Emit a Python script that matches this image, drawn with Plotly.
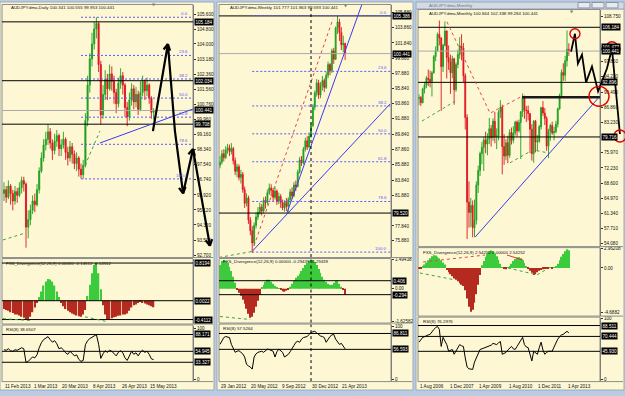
import math
import plotly.graph_objects as go

W, H = 625, 396

# ======================= DATA =======================
# ---- Daily window (left) ----
D_TITLE = "AUDJPY.dma,Daily 100.341 100.555 99.953 100.441"
D_OPEN0 = 96.0
D_CLOSE = [96.2, 95.8, 96.4, 96.0, 95.6, 96.1, 95.9, 96.3, 96.7, 96.5,
           94.2, 94.6, 95.1, 95.6, 95.4, 96.2, 97.2, 97.9, 98.6, 98.9,
           99.3, 98.7, 98.3, 98.8, 99.1, 98.4, 98.6, 98.9, 98.2, 97.9,
           98.5, 98.1, 97.6, 97.9, 97.3, 97.0, 97.5, 99.9, 101.8, 103.2,
           104.0, 104.8, 105.1, 102.9, 100.2, 101.3, 102.1, 101.6, 102.4, 102.0,
           101.4, 100.8, 101.9, 102.3, 101.8, 100.6, 100.1, 101.0, 101.6, 100.9,
           101.3, 100.5, 101.4, 102.0, 101.5, 101.8, 101.1, 100.34, 100.441]
D_HIGH = [96.6, 96.4, 96.7, 96.5, 96.2, 96.4, 96.3, 96.6, 96.9, 96.9,
          96.6, 95.1, 95.4, 95.9, 96.0, 96.5, 97.4, 98.2, 98.9, 99.3,
          99.7, 99.5, 98.9, 99.2, 99.4, 99.2, 98.9, 99.3, 99.0, 98.5,
          98.8, 98.7, 98.3, 98.2, 98.0, 97.6, 97.8, 100.3, 102.3, 103.5,
          104.6, 105.2, 105.43, 105.2, 103.1, 101.8, 102.6, 102.4, 102.9, 102.8,
          102.3, 101.6, 102.2, 102.7, 102.5, 101.9, 100.9, 101.4, 101.9, 101.8,
          101.7, 101.5, 102.0, 102.3, 102.1, 102.2, 101.9, 101.2, 100.555]
D_LOW = [95.6, 95.5, 95.7, 95.4, 95.1, 95.4, 95.5, 95.8, 96.0, 96.1,
         93.1, 93.6, 94.3, 94.9, 95.0, 95.3, 96.0, 97.1, 97.7, 98.3,
         98.6, 98.4, 97.8, 98.1, 98.5, 98.0, 98.0, 98.4, 97.8, 97.5,
         97.7, 97.6, 97.3, 97.2, 96.9, 96.8, 96.78, 97.4, 99.6, 101.4,
         102.8, 103.7, 104.3, 102.5, 99.7, 100.0, 101.0, 101.0, 101.5, 101.5,
         100.8, 100.3, 100.6, 101.6, 101.3, 100.1, 99.6, 99.9, 100.7, 100.5,
         100.6, 100.2, 100.4, 101.2, 101.0, 101.2, 100.8, 100.0, 99.953]
D_HIST = [-0.18, -0.2, -0.22, -0.25, -0.27, -0.3, -0.3, -0.32, -0.35, -0.37,
          -0.4, -0.41, -0.35, -0.25, -0.15, -0.05, 0.08, 0.2, 0.33, 0.42,
          0.47, 0.46, 0.42, 0.33, 0.2, 0.08, -0.05, -0.12, -0.18, -0.22,
          -0.25, -0.28, -0.3, -0.32, -0.34, -0.35, -0.3, -0.2, 0.1, 0.35,
          0.6, 0.78, 0.82, 0.6, 0.25, -0.1, -0.3, -0.41, -0.4, -0.38,
          -0.36, -0.35, -0.33, -0.32, -0.3, -0.3, -0.28, -0.22, -0.15, -0.1,
          -0.08, -0.05, -0.03, -0.05, -0.06, -0.08, -0.1, -0.12, -0.145]
D_RSI = [58, 57, 60, 56, 55, 58, 57, 60, 62, 60,
         33, 35, 40, 44, 42, 48, 62, 72, 78, 82,
         84, 78, 73, 76, 70, 60, 62, 58, 52, 49,
         55, 51, 46, 48, 39, 35, 37, 68, 76, 80,
         83, 86, 88, 69, 41, 50, 56, 53, 57, 55,
         50, 46, 53, 56, 52, 42, 37, 47, 55, 49,
         52, 46, 53, 57, 53, 55, 49, 40, 38.65]
D_DATES = ["11 Feb 2013", "1 Mar 2013", "20 Mar 2013", "8 Apr 2013", "26 Apr 2013", "15 May 2013"]
D_DATE_IDX = [0, 13, 26, 40, 53, 66]
D_PRICE_TICKS = [105.6, 104.8, 104.0, 103.18, 102.36, 101.56, 100.76, 99.96,
                 99.16, 98.34, 97.54, 96.74, 95.92, 95.12, 94.32, 93.5, 92.7]
D_LEVELS = [105.184, 102.034, 99.708]
D_LEVEL_TXT = ["105.184", "102.034", "99.708"]
D_FIB = (105.43, 96.78, 35)  # high, low, start bar
D_MACD_TITLE = "FXS_Divergence(12,26,9) 0.00000 -0.14512 -0.14512"
D_MACD_LEVELS = [0.82, 0.0, -0.41]
D_MACD_TXT = ["0.8194", "0.0022", "-0.4112"]
D_RSI_TITLE = "RSI(8) 38.6507"
D_RSI_LEVELS = [88.2, 54.9, 33.3]
D_RSI_TXT = ["88.171", "54.945", "33.327"]
D_ARROW_PATH = [(67.7, 99.34), (74.5, 104.0), (77.7, 99.34), (81.4, 96.0), (85.9, 98.38), (93.6, 93.2)]
D_ARROW_TIPS = [1, 3, 4, 5]
D_BLUE = [(43.6, 98.7), (85.9, 100.52)]
D_GREEN_DOT = [[(36.8, 97.49), (43.6, 99.34)], [(-0.5, 93.51), (9.5, 93.88)]]
D_MACD_GREEN = [[(-0.5, -0.39), (11.8, -0.43)], [(36.8, -0.35), (46.8, -0.455)]]

# ---- Weekly window (middle) ----
W_TITLE = "AUDJPY.dma,Weekly 101.777 101.863 99.593 100.441"
W_OPEN0 = 85.8
W_CLOSE = [86.2, 87.3, 86.8, 87.8, 88.1, 87.6, 88.0, 86.4, 85.0, 85.6,
           84.2, 84.6, 82.6, 80.8, 81.5, 78.6, 77.2, 75.6, 77.9, 79.0,
           79.6, 80.3, 79.8, 81.2, 80.9, 82.2, 82.8, 82.5, 81.6, 82.4,
           81.1, 81.7, 80.9, 80.2, 80.9, 80.4, 81.3, 82.3, 81.8, 83.2,
           83.0, 84.9, 86.5, 86.1, 87.9, 89.0, 88.2, 89.6, 91.0, 93.4,
           95.3, 96.6, 95.0, 96.2, 96.9, 96.0, 97.6, 99.0, 98.2, 100.8,
           99.7, 103.8, 104.6, 103.2, 101.6, 101.777, 100.441]
W_HIGH = [87.0, 87.8, 87.9, 88.3, 88.6, 88.5, 88.7, 88.2, 86.8, 86.0,
          85.9, 85.2, 84.9, 83.0, 82.1, 81.8, 79.0, 77.8, 78.3, 79.6,
          80.3, 80.9, 80.7, 81.6, 81.7, 82.6, 83.4, 83.3, 82.8, 83.0,
          82.6, 82.2, 82.0, 81.3, 81.2, 81.5, 81.6, 82.7, 82.9, 83.6,
          83.8, 85.2, 86.9, 87.0, 88.2, 89.4, 89.6, 90.1, 91.4, 93.8,
          95.6, 97.1, 97.0, 96.7, 97.5, 97.2, 98.0, 99.4, 99.2, 101.1,
          101.2, 104.0, 105.43, 105.0, 103.9, 102.8, 101.863]
W_LOW = [85.4, 85.9, 86.3, 86.6, 87.3, 87.0, 87.2, 85.9, 84.5, 84.2,
         83.8, 83.4, 82.2, 80.2, 80.4, 78.1, 76.6, 74.3, 75.2, 77.5,
         78.6, 79.3, 79.2, 79.5, 80.1, 80.6, 81.9, 81.7, 81.1, 81.3,
         80.6, 80.7, 80.2, 79.9, 79.7, 79.8, 79.5, 80.9, 81.4, 81.6,
         82.4, 82.9, 84.7, 85.7, 85.9, 87.6, 87.8, 88.0, 89.4, 90.8,
         93.0, 94.8, 94.5, 94.6, 95.6, 95.4, 95.8, 97.2, 97.6, 97.9,
         99.1, 99.6, 103.0, 102.1, 100.9, 100.6, 99.593]
W_HIST = [1.2, 1.4, 1.45, 1.4, 1.3, 1.1, 0.9, 0.6, 0.3, -0.05,
          -0.2, -0.35, -0.55, -0.75, -1.0, -1.25, -1.45, -1.4, -1.2, -0.9,
          -0.6, -0.3, 0.05, 0.2, 0.35, 0.45, 0.45, 0.35, 0.25, 0.15,
          0.08, 0.03, -0.05, -0.12, -0.15, -0.1, -0.03, 0.1, 0.25, 0.4,
          0.55, 0.65, 0.75, 0.9, 1.05, 1.2, 1.3, 1.4, 1.45, 1.45,
          1.35, 1.2, 1.0, 0.8, 0.6, 0.45, 0.35, 0.25, 0.2, 0.2,
          0.3, 0.4, 0.4, 0.25, 0.1, -0.05, -0.294]
W_RSI = [66, 74, 79, 81, 80, 79, 66, 58, 51, 53,
         54, 51, 48, 42, 28, 25, 23, 19, 42, 48,
         51, 52, 53, 51, 54, 57, 56, 54, 53, 42,
         52, 57, 53, 51, 42, 45, 47, 52, 57, 64,
         70, 72, 70, 76, 79, 80, 81, 85, 89, 90,
         91, 88, 85, 82, 81, 79, 70, 76, 81, 84,
         85, 76, 70, 66, 68, 62, 57.53]
W_DATES = ["29 Jan 2012", "20 May 2012", "9 Sep 2012", "30 Dec 2012", "21 Apr 2013"]
W_DATE_IDX = [0, 16, 32, 48, 64]
W_PRICE_TICKS = [105.88, 103.86, 101.84, 99.86, 97.88, 95.84, 93.86, 91.88, 89.84,
                 87.86, 85.88, 83.84, 81.88, 77.84, 75.88]
W_LEVELS = [105.386, 79.52]
W_LEVEL_TXT = ["105.386", "79.520"]
W_FIB = (105.43, 74.4, 17)
W_VLINE = 48
W_MACD_TITLE = "FXS_Divergence(12,26,9) 0.00000 -0.29439 -0.29439"
W_MACD_LEVELS = [0.406, -0.294]
W_MACD_TXT = ["0.406", "-0.294"]
W_MACD_TICKS = [1.494, 0.0, -1.626]
W_MACD_TICK_TXT = ["1.49438", "0.00", "-1.62582"]
W_RSI_TITLE = "RSI(8) 57.5264"
W_RSI_LEVELS = [86.8, 56.6]
W_RSI_TXT = ["86.811", "56.593"]
W_BLUE = [[(35.3, 79.54), (74.9, 106.94)], [(16.9, 74.48), (89.7, 93.83)]]
W_RED_DOT = [(16.9, 74.48), (59.6, 105.0)]
W_GREEN_DOT = [(-0.5, 73.7), (16.9, 74.48)]
W_MACD_GREEN = [(0.0, -1.39), (16.0, -1.54)]

# ---- Monthly window (right) ----
M_TITLE = "AUDJPY.dma,Monthly 100.844 102.338 99.284 100.441"
M_WINDOW = "AUDJPY.dma,Monthly"
M_OPEN0 = 89.0
M_CLOSE = [89.2, 88.0, 91.3, 92.2, 93.9,
           93.6, 93.1, 95.2, 99.1, 100.6, 104.5, 103.6, 96.7, 101.8, 105.3, 98.9, 97.8,
           95.2, 98.6, 91.1, 97.2, 99.6, 101.7, 101.2, 94.5, 84.4, 64.0, 61.5, 63.2,
           57.8, 59.6, 68.1, 71.6, 75.7, 77.2, 79.0, 78.0, 79.3, 81.7, 79.6, 83.5,
           79.8, 80.0, 85.7, 86.9, 77.4, 75.1, 78.3, 75.3, 80.8, 78.9, 80.7, 83.3,
           81.2, 83.2, 85.8, 89.2, 86.2, 86.1, 85.4, 81.6, 75.7, 83.5, 78.5, 78.7,
           82.2, 86.8, 85.5, 84.2, 77.5, 81.1, 82.5, 80.7, 81.0, 82.8, 86.5, 89.7,
           95.3, 94.6, 98.1, 100.844, 100.441]
M_HIGH = [90.0, 89.6, 91.6, 93.0, 94.4,
          96.0, 95.7, 95.6, 99.5, 101.6, 104.9, 107.8, 103.8, 102.2, 107.6, 105.4, 101.8,
          99.6, 99.3, 98.8, 97.7, 100.8, 103.8, 104.5, 102.4, 95.1, 85.2, 69.0, 65.0,
          64.4, 64.6, 69.0, 72.8, 76.2, 78.5, 79.8, 81.0, 80.6, 84.3, 82.6, 84.2,
          85.8, 81.8, 86.2, 88.6, 87.5, 80.4, 79.2, 80.0, 81.6, 82.0, 82.3, 83.6,
          83.7, 83.9, 86.0, 90.2, 89.7, 87.2, 87.3, 85.1, 82.8, 83.8, 83.8, 80.2,
          82.6, 87.0, 88.4, 86.7, 84.7, 81.7, 82.9, 83.4, 82.2, 83.6, 86.8, 90.2,
          96.0, 97.5, 99.3, 105.43, 102.338]
M_LOW = [87.4, 87.2, 87.8, 90.2, 91.5,
         92.0, 91.7, 89.5, 95.0, 98.0, 100.3, 101.8, 86.0, 95.4, 101.6, 93.8, 95.9,
         90.1, 93.9, 87.5, 90.6, 96.3, 98.6, 98.2, 93.0, 81.5, 55.1, 57.8, 58.0,
         55.5, 55.6, 58.6, 66.2, 70.3, 73.1, 71.5, 75.8, 75.3, 78.0, 77.4, 78.8,
         78.2, 76.8, 78.9, 84.3, 70.7, 73.0, 74.1, 73.4, 74.7, 77.9, 78.2, 80.1,
         79.8, 80.8, 74.4, 84.5, 84.1, 83.3, 83.7, 75.8, 74.0, 73.5, 76.0, 76.3,
         78.3, 81.5, 84.8, 82.6, 76.4, 74.6, 78.8, 80.2, 78.9, 80.6, 82.0, 86.3,
         89.5, 93.3, 93.2, 96.7, 99.284]
M_HIST = [-0.1, -0.05, 0.2, 0.5, 0.8, 1.1, 1.4, 1.7, 1.85, 1.8,
          1.6, 1.4, 1.1, 0.8, 0.5, -0.3, -0.6, -0.9, -1.2, -1.5,
          -1.7, -1.9, -2.2, -2.4, -2.6, -3.2, -4.4, -5.6, -6.3, -6.0,
          -5.0, -3.8, -2.4, -1.0, 0.4, 1.0, 1.6, 2.1, 2.4, 2.5,
          2.4, 2.1, 1.7, 1.2, 0.6, 0.1, -0.1, -0.2, 0.1, 0.3,
          0.6, 1.0, 1.3, 1.5, 1.55, 1.4, 1.1, 0.7, 0.3, -0.1,
          -0.4, -0.7, -1.0, -0.9, -0.6, -0.4, -0.3, -0.2, -0.15, -0.1,
          -0.05, 0.05, -0.05, 0.05, 0.2, 0.6, 1.1, 1.6, 2.0, 2.4,
          2.7, 2.54]
M_RSI = [61, 65, 69, 70, 72, 73, 74, 79, 82, 85,
         87, 82, 54, 69, 63, 57, 46, 48, 49, 41,
         47, 52, 57, 55, 54, 35, 20, 17, 16, 16,
         28, 36, 42, 49, 50, 51, 52, 53, 54, 56,
         59, 58, 57, 60, 62, 41, 42, 44, 48, 52,
         54, 50, 49, 54, 59, 65, 69, 57, 53, 52,
         40, 30, 46, 44, 41, 52, 61, 48, 41, 44,
         46, 46, 46, 53, 61, 66, 70, 73, 74, 77,
         79, 76.3]
M_DATES = ["1 Aug 2006", "1 Dec 2007", "1 Apr 2009", "1 Aug 2010", "1 Dec 2011", "1 Apr 2013"]
M_DATE_IDX = [0, 16, 32, 48, 64, 80]
M_PRICE_TICKS = [108.75, 97.85, 94.22, 90.49, 86.86, 83.23, 75.97, 72.23, 68.60,
                 64.97, 61.34, 57.71, 54.08]
M_LEVELS = [106.184, 92.896, 79.716]
M_LEVEL_TXT = ["106.184", "92.896", "79.716"]
M_EXTRA_BOX = [101.477]
M_EXTRA_BOX_TXT = ["101.477"]
M_MACD_TITLE = "FXS_Divergence(12,26,9) 2.54252 0.00000 2.54252"
M_MACD_TICKS = [2.86, 0.0, -6.43]
M_MACD_TICK_TXT = ["2.96208", "0.00", "-4.6882"]
M_RSI_TITLE = "RSI(8) 76.2976"
M_RSI_LEVELS = [88.5, 70.5, 45.9]
M_RSI_TXT = ["88.511", "70.444", "45.930"]
M_RED_DOT = [(15.1, 107.5), (38.4, 85.46), (55.7, 89.53)]
M_GREEN_DOT = [[(1.6, 83.55), (19.5, 88.34)], [(49.2, 73.49), (61.6, 76.6), (69.7, 75.88)]]
M_BLUE = [(30.3, 55.53), (96.8, 89.05)]
M_THICK = [(55.7, 89.29), (97.8, 89.29)]
M_ZIGZAG = [(82.2, 100.31), (84.3, 104.62), (85.9, 97.44), (88.1, 99.59), (90.3, 92.89),
            (93.5, 96.72), (96.8, 90.73), (101.6, 96.24), (104.3, 101.03), (108.6, 80.43)]
M_CIRCLES = [(84.3, 104.62), (104.3, 101.27), (97.3, 89.53), (108.6, 79.95)]
M_CIRCLE_R = [5, 6, 10, 6]
M_MACD_RED_DOT = [(2.2, 0.86), (35.7, 1.86)]
M_MACD_RED = [(47.6, 1.86), (56.2, 1.14)]
M_MACD_GREEN = [[(0.5, -0.72), (19.5, -1.72)], [(48.1, 0.0), (63.8, -1.0), (69.2, -0.14)]]

FIB_RATIOS = [0.0, 23.6, 38.2, 50.0, 61.8, 78.6, 100.0]
CURRENT = 100.441

# ======================= STYLE / LAYOUT =======================
BG = "#FDF8D3"
FRAME = "#B9CCE4"
FONT = "Liberation Sans"
FS = 4.6
TFS = 4.4
UP, DN = "#1E9E1E", "#E0141E"
HG, HR = "#3CCB3C", "#B52A1E"
BLUE = "#3A3AF0"
FIBC = "#5A5AFF"

PANELS = {
    'L': dict(n=(1, 2, 3), plot_x=(2, 193), win=(0, 214),
              panes={'price': (3, 257), 'macd': (259, 324), 'rsi': (326, 382)},
              xr=(-0.91, 85.91),
              yr={'price': (92.598, 106.087), 'macd': (-0.497, 0.907), 'rsi': (-3.9, 105.9)}),
    'M': dict(n=(4, 5, 6), plot_x=(219, 391), win=(217, 413),
              panes={'price': (3, 257), 'macd': (259, 323), 'rsi': (325, 382)},
              xr=(-0.53, 90.19),
              yr={'price': (73.75, 106.82), 'macd': (-1.693, 1.494), 'rsi': (-3.8, 103.8)}),
    'R': dict(n=(7, 8, 9), plot_x=(418, 600), win=(416, 624),
              panes={'price': (8, 246), 'macd': (248, 316), 'rsi': (318, 382)},
              xr=(-0.54, 97.84),
              yr={'price': (53.37, 110.37), 'macd': (-6.86, 2.86), 'rsi': (-3.3, 101.6)}),
}
PANES = ('price', 'macd', 'rsi')


def names(n):
    return ('x' if n == 1 else f'x{n}', 'y' if n == 1 else f'y{n}')


def akey(letter, n):
    return f'{letter}axis' if n == 1 else f'{letter}axis{n}'


def px_of(P, pane, i, v):
    x0, x1 = P['plot_x']
    a, b = P['xr']
    y0, y1 = P['panes'][pane]
    r0, r1 = P['yr'][pane]
    return (x0 + (i - a) / (b - a) * (x1 - x0), y1 - (v - r0) / (r1 - r0) * (y1 - y0))


def pp(x, y):
    return x / W, 1 - y / H


fig = go.Figure()
shapes, annos, lay = [], [], {}


def font(size=FS, color="#111111", family=FONT):
    return dict(size=size, color=color, family=family)


def text(x, y, s, color="#111111", xanchor='left', yanchor='middle', size=FS, family=FONT):
    xp, yp = pp(x, y)
    annos.append(dict(x=xp, y=yp, xref='paper', yref='paper', text=s, showarrow=False,
                      xanchor=xanchor, yanchor=yanchor, font=font(size, color, family)))


def rect_px(x0, y0, x1, y1, fill=None, line=None, lw=1, layer='below'):
    a, b = pp(x0, y0)
    c, d = pp(x1, y1)
    shapes.append(dict(type='rect', xref='paper', yref='paper', x0=a, y0=d, x1=c, y1=b,
                       fillcolor=fill or 'rgba(0,0,0,0)',
                       line=dict(color=line or 'rgba(0,0,0,0)', width=lw if line else 0),
                       layer=layer))


def line_px(x0, y0, x1, y1, color, width=1, dash='solid', layer='above'):
    a, b = pp(x0, y0)
    c, d = pp(x1, y1)
    shapes.append(dict(type='line', xref='paper', yref='paper', x0=a, y0=b, x1=c, y1=d,
                       line=dict(color=color, width=width, dash=dash), layer=layer))


def data_path(n, pts, color, width=1, dash='solid'):
    xa, ya = names(n)
    d = "M " + " L ".join(f"{x},{y}" for x, y in pts)
    shapes.append(dict(type='path', xref=xa, yref=ya, path=d,
                       line=dict(color=color, width=width, dash=dash), layer='above'))


def hline(n, v, color='black', width=1, dash='solid'):
    xa, ya = names(n)
    shapes.append(dict(type='line', xref=f'{xa} domain', yref=ya, x0=0, x1=1, y0=v, y1=v,
                       line=dict(color=color, width=width, dash=dash), layer='above'))


def box(P, n, v, s):
    _, ya = names(n)
    annos.append(dict(x=(P['plot_x'][1] + 1) / W, xref='paper', y=v, yref=ya, text=s,
                      showarrow=False, xanchor='left', yanchor='middle',
                      font=font(FS, 'white'), bgcolor='black', borderpad=0.5))


def ohlc(o0, c, h, l):
    o = [o0] + c[:-1]
    hh = [max(a, b, x) for a, b, x in zip(o, c, h)]
    ll = [min(a, b, x) for a, b, x in zip(o, c, l)]
    return o, hh, ll


# window backgrounds
for key, P in PANELS.items():
    wx0, wx1 = P['win']
    top = 7 if key == 'R' else 0
    rect_px(wx0, top, wx1, 391, fill=BG, line="#9DA9B8")
# right window title bar
rect_px(416, 0, 624, 7, fill="#D3DBE7", line="#9DA9B8")
text(427, 3.6, M_WINDOW, color="#6E7580", size=TFS)
for bx0 in (578, 592, 606):
    rect_px(bx0, 0.5, bx0 + 12, 6, fill="#E6EBF2", line="#8A96A8", layer='above')

# axes
for key, P in PANELS.items():
    for pane, n in zip(PANES, P['n']):
        xa, ya = names(n)
        y0, y1 = P['panes'][pane]
        xd = dict(domain=[P['plot_x'][0] / W, P['plot_x'][1] / W], range=list(P['xr']),
                  anchor=ya, showgrid=False, zeroline=False, showticklabels=False,
                  ticks='', showline=False, fixedrange=True)
        if pane == 'price':
            xd['rangeslider'] = dict(visible=False)
        lay[akey('x', n)] = xd
        lay[akey('y', n)] = dict(domain=[1 - y1 / H, 1 - y0 / H], range=list(P['yr'][pane]),
                                 anchor=xa, side='right', showgrid=False, zeroline=False,
                                 showline=True, linecolor='#6f6f6f', linewidth=1,
                                 ticks='outside', ticklen=2, tickcolor='#333333',
                                 tickfont=font(), fixedrange=True, tickmode='array',
                                 tickvals=[], ticktext=[])
        rect_px(P['plot_x'][0], y0 - 0.5, P['plot_x'][1], y1 + 0.5, line="#8c8c8c", layer='above')
        line_px(P['plot_x'][1], y1 + 0.5, P['win'][1] - 1, y1 + 0.5, "#8c8c8c")


def set_ticks(n, vals, txts):
    lay[akey('y', n)]['tickvals'] = vals
    lay[akey('y', n)]['ticktext'] = txts


DATA = {
    'L': dict(o0=D_OPEN0, c=D_CLOSE, h=D_HIGH, l=D_LOW, hist=D_HIST, rsi=D_RSI),
    'M': dict(o0=W_OPEN0, c=W_CLOSE, h=W_HIGH, l=W_LOW, hist=W_HIST, rsi=W_RSI),
    'R': dict(o0=M_OPEN0, c=M_CLOSE, h=M_HIGH, l=M_LOW, hist=M_HIST, rsi=M_RSI),
}

for key, P in PANELS.items():
    Dd = DATA[key]
    n1, n2, n3 = P['n']
    o, hh, ll = ohlc(Dd['o0'], Dd['c'], Dd['h'], Dd['l'])
    xs = list(range(len(Dd['c'])))
    fig.add_trace(go.Candlestick(
        x=xs, open=o, high=hh, low=ll, close=Dd['c'],
        xaxis=names(n1)[0], yaxis=names(n1)[1], whiskerwidth=0,
        increasing=dict(line=dict(color=UP, width=0.9), fillcolor=UP),
        decreasing=dict(line=dict(color=DN, width=0.9), fillcolor=DN),
        hoverinfo='skip', showlegend=False))
    hx = list(range(len(Dd['hist'])))
    fig.add_trace(go.Bar(x=hx, y=Dd['hist'], width=0.6,
                         marker=dict(color=[HG if v >= 0 else HR for v in Dd['hist']], line=dict(width=0)),
                         xaxis=names(n2)[0], yaxis=names(n2)[1], hoverinfo='skip', showlegend=False))
    rx = list(range(len(Dd['rsi'])))
    fig.add_trace(go.Scatter(x=rx, y=Dd['rsi'], mode='lines', line=dict(color='black', width=1),
                             xaxis=names(n3)[0], yaxis=names(n3)[1], hoverinfo='skip', showlegend=False))
    hline(n1, CURRENT, color='#A9A9A9', width=1)
    set_ticks(n3, [100, 0], ["100", "0"])


def fib(P, n, hi, lo, start):
    xa, ya = names(n)
    for r in FIB_RATIOS:
        v = hi - r / 100 * (hi - lo)
        shapes.append(dict(type='line', xref=xa, yref=ya, x0=start, x1=P['xr'][1], y0=v, y1=v,
                           line=dict(color=FIBC, width=1, dash='2px,2px'), layer='above'))
        annos.append(dict(x=P['xr'][1] - 1.2, xref=xa, y=v, yref=ya, text=f"{r:.1f}", showarrow=False,
                          xanchor='right', yanchor='bottom', font=font(TFS, FIBC), yshift=-1))


def dates(P, n, idx, labels):
    xa, _ = names(n)
    for i, s in zip(idx, labels):
        annos.append(dict(x=i, xref=xa, y=1 - 387.5 / H, yref='paper', text=s, showarrow=False,
                          xanchor='left', yanchor='middle', font=font(), xshift=-1))


def arrow_heads(pts_px, tips, length=7.0, ang=28):
    out = []
    for t in tips:
        (xa_, ya_), (xb, yb) = pts_px[t - 1], pts_px[t]
        dx, dy = xa_ - xb, ya_ - yb
        d = math.hypot(dx, dy)
        ux, uy = dx / d, dy / d
        for s in (1, -1):
            a = math.radians(ang * s)
            rx = ux * math.cos(a) - uy * math.sin(a)
            ry = ux * math.sin(a) + uy * math.cos(a)
            out.append([(xb + rx * length, yb + ry * length), (xb, yb)])
    return out


def px_path(pts_px, color, width):
    d = "M " + " L ".join(f"{x / W},{1 - y / H}" for x, y in pts_px)
    shapes.append(dict(type='path', xref='paper', yref='paper', path=d,
                       line=dict(color=color, width=width), layer='above'))


# ---------------- Left (daily) ----------------
P = PANELS['L']
n1, n2, n3 = P['n']
set_ticks(n1, D_PRICE_TICKS, [f"{v:.3f}" for v in D_PRICE_TICKS])
for v in D_LEVELS:
    hline(n1, v)
fib(P, n1, *D_FIB)
data_path(n1, D_BLUE, BLUE, 1)
for seg in D_GREEN_DOT:
    data_path(n1, seg, "#3DA33D", 1, 'dot')
for v, s in zip(D_LEVELS + [CURRENT], D_LEVEL_TXT + ["100.441"]):
    box(P, n1, v, s)
for v in D_MACD_LEVELS:
    hline(n2, v)
for v, s in zip(D_MACD_LEVELS, D_MACD_TXT):
    box(P, n2, v, s)
for seg in D_MACD_GREEN:
    data_path(n2, seg, "#3DA33D", 1, 'dot')
for v in D_RSI_LEVELS:
    hline(n3, v)
for v, s in zip(D_RSI_LEVELS, D_RSI_TXT):
    box(P, n3, v, s)
arrow_px = [px_of(P, 'price', i, v) for i, v in D_ARROW_PATH]
px_path(arrow_px, 'black', 2.2)
for seg in arrow_heads(arrow_px, D_ARROW_TIPS):
    px_path(seg, 'black', 2.2)
dates(P, n3, D_DATE_IDX, D_DATES)
text(9, 6, D_TITLE, size=TFS)
text(4, 263, D_MACD_TITLE, size=TFS)
text(4, 330, D_RSI_TITLE, size=TFS)
text(154, 3, "▼", color="#808080", xanchor='center', size=4, family="DejaVu Sans")

# ---------------- Middle (weekly) ----------------
P = PANELS['M']
n1, n2, n3 = P['n']
set_ticks(n1, W_PRICE_TICKS, [f"{v:.3f}" for v in W_PRICE_TICKS])
for v in W_LEVELS:
    hline(n1, v)
fib(P, n1, *W_FIB)
for seg in W_BLUE:
    data_path(n1, seg, BLUE, 1)
data_path(n1, W_RED_DOT, "#E04848", 1, 'dot')
data_path(n1, W_GREEN_DOT, "#3DA33D", 1, 'dot')
for v, s in zip(W_LEVELS + [CURRENT], W_LEVEL_TXT + ["100.441"]):
    box(P, n1, v, s)
set_ticks(n2, W_MACD_TICKS, W_MACD_TICK_TXT)
for v in W_MACD_LEVELS:
    hline(n2, v)
for v, s in zip(W_MACD_LEVELS, W_MACD_TXT):
    box(P, n2, v, s)
data_path(n2, W_MACD_GREEN, "#3DA33D", 1, 'dot')
for v in W_RSI_LEVELS:
    hline(n3, v)
for v, s in zip(W_RSI_LEVELS, W_RSI_TXT):
    box(P, n3, v, s)
for n in P['n']:
    xa, ya = names(n)
    shapes.append(dict(type='line', xref=xa, yref=f'{ya} domain', x0=W_VLINE, x1=W_VLINE, y0=0, y1=1,
                       line=dict(color='black', width=1, dash='dot'), layer='above'))
dates(P, n3, W_DATE_IDX, W_DATES)
text(228, 6, W_TITLE, size=TFS)
text(221, 261.5, W_MACD_TITLE, size=TFS)
text(221, 328.5, W_RSI_TITLE, size=TFS)
text(346, 3.5, "▼", color="#808080", xanchor='center', size=4, family="DejaVu Sans")

# ---------------- Right (monthly) ----------------
P = PANELS['R']
n1, n2, n3 = P['n']
set_ticks(n1, M_PRICE_TICKS, [f"{v:.3f}" for v in M_PRICE_TICKS])
for v in M_LEVELS:
    hline(n1, v)
data_path(n1, M_RED_DOT, "#E04848", 1, 'dot')
for seg in M_GREEN_DOT:
    data_path(n1, seg, "#3DA33D", 1, 'dot')
data_path(n1, M_BLUE, BLUE, 1)
data_path(n1, M_THICK, "#1a1a1a", 2.6)
for v, s in zip(M_EXTRA_BOX + [CURRENT] + M_LEVELS, M_EXTRA_BOX_TXT + ["100.441"] + M_LEVEL_TXT):
    box(P, n1, v, s)
zig_px = [px_of(P, 'price', i, v) for i, v in M_ZIGZAG]
px_path(zig_px, 'black', 1.8)
for (ci, cv), r in zip(M_CIRCLES, M_CIRCLE_R):
    cx, cy = px_of(P, 'price', ci, cv)
    a, b = pp(cx - r, cy + r)
    c, d = pp(cx + r, cy - r)
    shapes.append(dict(type='circle', xref='paper', yref='paper', x0=a, y0=b, x1=c, y1=d,
                       line=dict(color="#E00000", width=1.4), layer='above'))
set_ticks(n2, M_MACD_TICKS, M_MACD_TICK_TXT)
data_path(n2, M_MACD_RED_DOT, "#E04848", 1, 'dot')
data_path(n2, M_MACD_RED, "#E03030", 1)
for seg in M_MACD_GREEN:
    data_path(n2, seg, "#3DA33D", 1, 'dot')
for v in M_RSI_LEVELS:
    hline(n3, v)
for v, s in zip(M_RSI_LEVELS, M_RSI_TXT):
    box(P, n3, v, s)
dates(P, n3, M_DATE_IDX, M_DATES)
text(427, 12, M_TITLE, size=TFS)
text(421, 252, M_MACD_TITLE, size=TFS)
text(421, 321.5, M_RSI_TITLE, size=TFS)
text(572, 9.5, "▼", color="#808080", xanchor='center', size=4, family="DejaVu Sans")

fig.update_layout(
    width=W, height=H, margin=dict(l=0, r=0, t=0, b=0, pad=0),
    paper_bgcolor=FRAME, plot_bgcolor='rgba(0,0,0,0)',
    showlegend=False, shapes=shapes, annotations=annos,
    font=dict(family=FONT, size=FS), bargap=0.4, boxgap=0.3,
    **lay)

fig.write_html("out.html", config={'displayModeBar': False})
